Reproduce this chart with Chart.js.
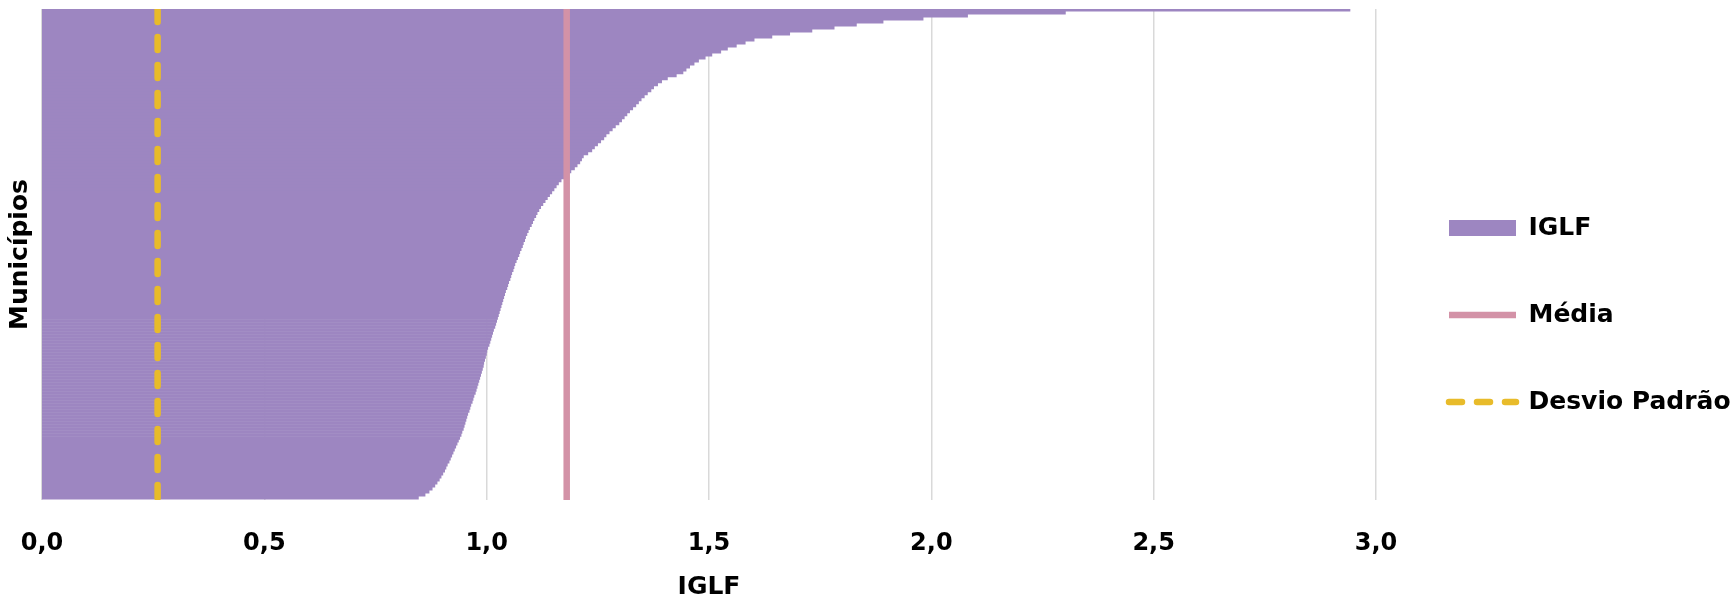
<!DOCTYPE html>
<html lang="pt">
<head>
<meta charset="utf-8">
<title>IGLF por município</title>
<style>
  html, body { margin: 0; padding: 0; background: #ffffff; }
  canvas { display: block; }
</style>
<script src="https://cdn.jsdelivr.net/npm/chart.js@4.4.1/dist/chart.umd.min.js"></script>
</head>
<body>
<canvas id="grafico" width="1736" height="597"></canvas>
<script>
// IGLF values, ordered from the top row of the chart (highest) to the bottom row (lowest)
const iglf = [
  2.94, 2.30, 2.08, 1.98, 1.89, 1.83, 1.78, 1.73, 1.68, 1.64,
  1.60, 1.58, 1.56, 1.54, 1.525, 1.505, 1.49, 1.475, 1.465, 1.455,
  1.447, 1.44, 1.425, 1.405, 1.392, 1.383, 1.374, 1.368, 1.36, 1.353,
  1.346, 1.34, 1.334, 1.327, 1.32, 1.314, 1.308, 1.302, 1.296, 1.288,
  1.281, 1.274, 1.267, 1.262, 1.255, 1.248, 1.241, 1.235, 1.226, 1.216,
  1.212, 1.208, 1.202, 1.196, 1.188, 1.18, 1.172, 1.166, 1.16, 1.155,
  1.15, 1.145, 1.14, 1.135, 1.13, 1.125, 1.12, 1.116, 1.112, 1.109,
  1.105, 1.102, 1.099, 1.095, 1.092, 1.089, 1.086, 1.084, 1.081, 1.079,
  1.076, 1.073, 1.071, 1.068, 1.065, 1.062, 1.06, 1.058, 1.055, 1.053,
  1.051, 1.048, 1.046, 1.044, 1.041, 1.039, 1.037, 1.035, 1.033, 1.031,
  1.029, 1.027, 1.025, 1.023, 1.021, 1.019, 1.017, 1.014, 1.012, 1.01,
  1.008, 1.006, 1.004, 1.001, 0.999, 0.998, 0.996, 0.994, 0.992, 0.991,
  0.989, 0.987, 0.985, 0.983, 0.981, 0.979, 0.977, 0.975, 0.973, 0.97,
  0.968, 0.966, 0.963, 0.961, 0.959, 0.956, 0.954, 0.952, 0.95, 0.948,
  0.946, 0.943, 0.941, 0.938, 0.935, 0.932, 0.929, 0.926, 0.923, 0.92,
  0.917, 0.914, 0.91, 0.907, 0.904, 0.9, 0.896, 0.892, 0.887, 0.882,
  0.876, 0.869, 0.86, 0.845
];
// category labels: rank position of each municipality group
const municipios = iglf.map((_, i) => String(i + 1));
const media = 1.18;
const desvioPadrao = 0.26;
const xTicks = [0, 0.5, 1.0, 1.5, 2.0, 2.5, 3.0];
const seriesNames = ['IGLF', 'Média', 'Desvio Padrão'];
const axisTitles = { x: 'IGLF', y: 'Municípios' };

const COLORS = { iglf: '#9d86c1', media: '#d392a7', desvio: '#e8bb2a', grid: '#d9d9d9', text: '#000000' };
const FONT = "'DejaVu Sans', 'Liberation Sans', sans-serif";

Chart.defaults.font.family = FONT;
Chart.defaults.font.weight = 'bold';
Chart.defaults.color = COLORS.text;

const fmt = v => Number(v).toFixed(1).replace('.', ',');

new Chart(document.getElementById('grafico'), {
  type: 'bar',
  data: {
    labels: municipios,
    datasets: [
      {
        label: seriesNames[0],
        data: iglf,
        backgroundColor: COLORS.iglf,
        borderColor: COLORS.iglf,
        borderWidth: 0,
        barPercentage: 1.0,
        categoryPercentage: 1.0,
        inflateAmount: 1,
        xAxisID: 'x',
        yAxisID: 'y',
        order: 3
      },
      {
        type: 'line',
        label: seriesNames[1],
        data: [{ x: media, y: 1 }, { x: media, y: 0 }],
        borderColor: COLORS.media,
        backgroundColor: COLORS.media,
        borderWidth: 6.5,
        borderCapStyle: 'butt',
        pointRadius: 0,
        fill: false,
        xAxisID: 'x',
        yAxisID: 'y2',
        order: 2
      },
      {
        type: 'line',
        label: seriesNames[2],
        data: [{ x: desvioPadrao, y: 1 }, { x: desvioPadrao, y: 0 }],
        borderColor: COLORS.desvio,
        backgroundColor: COLORS.desvio,
        borderWidth: 6.5,
        borderDash: [13, 15],
        borderCapStyle: 'round',
        pointRadius: 0,
        fill: false,
        xAxisID: 'x',
        yAxisID: 'y2',
        order: 1
      }
    ]
  },
  options: {
    indexAxis: 'y',
    responsive: false,
    devicePixelRatio: 1,
    animation: false,
    events: [],
    layout: { autoPadding: false, padding: { top: 9, left: 0, right: 0, bottom: 0 } },
    scales: {
      x: {
        type: 'linear',
        position: 'bottom',
        min: 0,
        max: 3,
        afterBuildTicks: scale => { scale.ticks = xTicks.map(v => ({ value: v })); },
        afterFit: scale => {
          scale.height = 97;
          scale.paddingLeft = 0;
          scale.paddingRight = 0;
        },
        ticks: {
          callback: v => fmt(v),
          font: { size: 24, weight: 'bold', lineHeight: 1 },
          color: COLORS.text,
          padding: 32,
          maxRotation: 0,
          autoSkip: false
        },
        grid: { color: COLORS.grid, lineWidth: 1.5, drawTicks: false },
        border: { display: false },
        title: {
          display: true,
          text: axisTitles.x,
          font: { size: 25, weight: 'bold', lineHeight: 0.8 },
          color: COLORS.text,
          padding: { top: 21, bottom: 0 }
        }
      },
      y: {
        type: 'category',
        position: 'left',
        offset: true,
        afterFit: scale => { scale.width = 42; },
        ticks: { display: false },
        grid: { display: false, drawTicks: false },
        border: { display: false },
        title: {
          display: true,
          text: axisTitles.y,
          font: { size: 25, weight: 'bold', lineHeight: 1 },
          color: COLORS.text,
          padding: { top: 7.5, bottom: 9.5 }
        }
      },
      y2: {
        type: 'linear',
        position: 'right',
        min: 0,
        max: 1,
        offset: false,
        ticks: { display: false },
        grid: { display: false, drawTicks: false },
        border: { display: false },
        afterFit: scale => { scale.width = 11; }
      }
    },
    plugins: {
      tooltip: { enabled: false },
      legend: {
        display: true,
        position: 'right',
        align: 'center',
        maxWidth: 349,
        title: { display: true, text: ' ', font: { size: 1 }, padding: { top: 23, bottom: 0 } },
        labels: {
          usePointStyle: true,
          pointStyleWidth: 67,
          boxHeight: 16,
          padding: 62,
          color: COLORS.text,
          font: { size: 25, weight: 'bold' },
          generateLabels: chart => chart.data.datasets.map((ds, i) => ({
            text: ds.label,
            fillStyle: ds.type === 'line' ? 'rgba(0,0,0,0)' : ds.backgroundColor,
            strokeStyle: ds.borderColor,
            lineWidth: ds.type === 'line' ? ds.borderWidth : 0,
            lineDash: ds.borderDash || [],
            lineCap: ds.borderCapStyle || 'butt',
            pointStyle: ds.type === 'line' ? 'line' : 'rect',
            fontColor: COLORS.text,
            hidden: false,
            datasetIndex: i
          }))
        }
      }
    }
  }
});
</script>
</body>
</html>
